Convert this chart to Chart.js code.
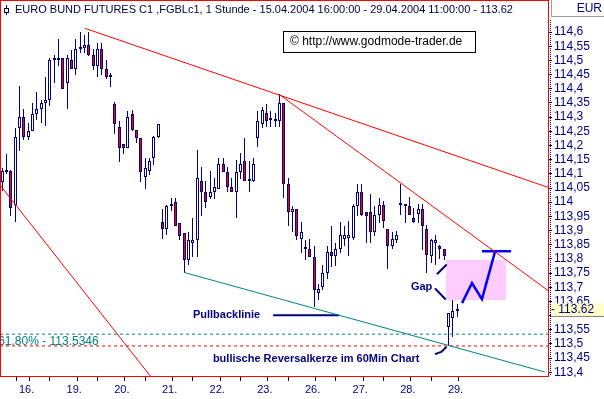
<!DOCTYPE html>
<html><head><meta charset="utf-8">
<script src="https://cdn.jsdelivr.net/npm/chart.js@4.4.0/dist/chart.umd.min.js"></script>
<style>html,body{margin:0;padding:0;background:#fff;}#wrap{width:604px;height:399px;}</style>
</head><body><div id="wrap"><canvas id="c" width="604" height="399"></canvas></div>
<script>
// ---------- DATA (hourly candles, 15.04.2004 16:00 - 29.04.2004 11:00) ----------
const opens = [114.07,114.105,114.11,113.99,114.26,114.30,114.23,114.25,114.31,114.33,114.35,114.36,114.50,114.51,114.51,114.42,114.50,114.47,114.54,114.545,114.555,114.52,114.48,114.54,114.47,114.44,
114.345,114.265,114.205,114.19,114.31,114.255,114.225,114.09,114.11,114.155,114.23,
113.93,113.905,113.985,114.0,113.925,113.89,113.795,113.855,113.865,114.075,114.035,
114.02,114.035,114.045,114.135,114.105,114.055,114.035,114.105,114.145,114.075,114.075,
114.225,114.275,114.315,114.29,114.295,114.285,114.35,114.065,113.965,113.975,113.87,
113.835,113.835,113.805,113.68,113.70,113.75,113.825,113.81,113.835,113.87,113.875,
113.875,113.985,114.035,113.965,113.965,113.895,113.955,113.99,113.905,113.845,113.865,
113.99,113.985,113.985,113.945,113.96,113.975,113.905,113.81,113.855,113.845,113.835,
113.56,113.59,113.615];
const highs = [114.12,114.17,114.115,114.26,114.41,114.33,114.28,114.35,114.39,114.36,114.44,114.51,114.52,114.575,114.51,114.52,114.535,114.575,114.60,114.59,114.60,114.54,114.56,114.56,114.50,114.455,
114.355,114.285,114.205,114.32,114.325,114.255,114.225,114.155,114.155,114.235,114.275,
113.975,113.99,114.015,114.015,113.925,113.89,113.895,113.945,114.185,114.125,114.075,
114.11,114.085,114.155,114.155,114.125,114.085,114.15,114.175,114.225,114.145,114.155,
114.32,114.335,114.345,114.32,114.315,114.38,114.35,114.085,113.985,113.975,113.93,
113.865,113.87,113.845,113.71,113.78,113.845,113.915,113.855,113.93,113.915,113.935,
113.995,114.065,114.065,113.965,114.03,113.985,114.015,114.005,113.905,113.895,113.90,
114.065,113.995,114.02,113.98,113.995,113.995,113.92,113.87,113.885,113.85,113.835,
113.61,113.655,113.64];
const lows = [114.04,114.10,113.95,113.93,114.18,114.22,114.22,114.25,114.29,114.28,114.27,114.34,114.42,114.48,114.40,114.33,114.47,114.45,114.525,114.525,114.515,114.465,114.44,114.45,114.435,114.405,
114.24,114.14,114.17,114.19,114.25,114.21,114.07,114.045,114.095,114.13,114.225,
113.87,113.885,113.97,113.915,113.865,113.75,113.78,113.805,113.805,113.95,113.98,
114.01,114.01,114.045,114.105,114.035,114.035,113.945,114.08,114.075,114.035,114.07,
114.195,114.26,114.265,114.265,114.265,114.265,114.015,113.915,113.895,113.865,113.82,
113.795,113.805,113.63,113.655,113.69,113.73,113.77,113.775,113.82,113.845,113.81,
113.865,113.95,113.95,113.855,113.855,113.88,113.925,113.91,113.765,113.835,113.855,
113.955,113.925,113.955,113.925,113.925,113.83,113.75,113.785,113.78,113.80,113.795,
113.495,113.525,113.595];
const closes = [114.11,114.11,113.98,114.23,114.30,114.23,114.25,114.31,114.33,114.35,114.36,114.50,114.51,114.50,114.40,114.51,114.47,114.54,114.545,114.555,114.52,114.48,114.54,114.47,114.44,114.45,
114.275,114.19,114.19,114.30,114.255,114.225,114.105,114.12,114.145,114.23,114.275,
113.905,113.985,113.995,113.915,113.88,113.795,113.865,113.865,114.085,114.035,114.0,
114.035,114.055,114.135,114.105,114.055,114.035,114.105,114.135,114.075,114.08,114.135,
114.285,114.325,114.285,114.295,114.285,114.35,114.065,113.965,113.975,113.88,113.895,
113.84,113.805,113.69,113.695,113.75,113.825,113.81,113.835,113.885,113.885,113.885,
113.985,114.035,113.955,113.95,113.895,113.955,113.99,113.935,113.845,113.87,113.885,
113.995,113.995,113.955,113.93,113.975,113.915,113.815,113.865,113.865,113.835,113.81,
113.61,113.615,113.62];

const dayLabels = ['16.','19.','20.','21.','22.','23.','26.','27.','28.','29.'];
const yTickValues = [113.4,113.45,113.5,113.55,113.6,113.65,113.7,113.75,113.8,113.85,113.9,113.95,114,114.05,114.1,114.15,114.2,114.25,114.3,114.35,114.4,114.45,114.5,114.55,114.6];
const lastPrice = 113.62;
const fibLevel = 113.5346;
const reversalLow = 113.493;

// trend lines (candle index, price)
const upperTrend   = [{x:19.1,y:114.613},{x:126,y:114.052}];
const steepTrend   = [{x:64.1,y:114.378},{x:126,y:113.688}];
const leftTrend    = [{x:-0.6,y:114.062},{x:34.2,y:113.386}];
const pullbackLine = [{x:42.0,y:113.752},{x:125.2,y:113.401}];
const projection   = [{x:106.1,y:113.644},{x:108.4,y:113.715},{x:110.7,y:113.658},{x:113.7,y:113.825}];
const projTarget   = [{x:110.7,y:113.827},{x:117.4,y:113.827}];
const pullbackMark = [{x:62.5,y:113.601},{x:77.7,y:113.601}];
const gapMarkTop   = [{x:100.3,y:113.746},{x:102.56,y:113.780}];
const gapMarkBot   = [{x:99.86,y:113.696},{x:102.33,y:113.657}];
const reversalMark = [{x:99.86,y:113.464},{x:101.3,y:113.472},{x:102.56,y:113.49}];
const gapZone = {x0:102.4, x1:116.2, top:113.796, bottom:113.655};

// ---------- LAYOUT ----------
const X_MIN = -0.53, X_MAX = 125.94;
const Y_MIN = 113.387, Y_MAX = 114.713;
const FIRST_DAY = 3, PER_DAY = 11;
const navy = '#000080';
const FONT = '"Liberation Sans", Arial, sans-serif';

const dayStart = dayLabels.map((d,i)=>FIRST_DAY + i*PER_DAY);
const labelPos = dayStart.map(s=>s+2.6);
const xTicks = [];
dayStart.forEach((s,i)=>{ xTicks.push(s+1); xTicks.push(labelPos[i]); if(i<dayStart.length-1) xTicks.push(s+4); });
xTicks.sort((a,b)=>a-b);
function isLabelTick(v){ return labelPos.some(p=>Math.abs(p-v)<1e-6); }
function dayLabelFor(v){ const k = labelPos.findIndex(p=>Math.abs(p-v)<1e-6); return k>=0 ? dayLabels[k] : ''; }

const idx = opens.map((_,i)=>i);
const bodies = idx.map(i=>({x:i, y:[opens[i], closes[i]]}));
const wicks = idx.map(i=>({x:i, y:[lows[i], highs[i]]}));
const bodyColors = idx.map(i=> closes[i] >= opens[i] ? '#ffffff' : '#ff0000');

function lineDs(data, color, width, dash){
  return {type:'line', data, borderColor:color, borderWidth:width, borderDash:dash||[], pointRadius:0, tension:0, fill:false, order:0};
}
const xEdges = [{x:X_MIN,y:0},{x:X_MAX,y:0}];

const snapBars = {
  id:'snapBars',
  afterDatasetsUpdate(chart){
    chart.getSortedVisibleDatasetMetas().forEach(meta=>{
      if(meta.type !== 'bar') return;
      meta.data.forEach(el=>{
        el.x = Math.floor(el.x) + 0.5;
        el.y = Math.round(el.y);
        el.base = Math.round(el.base);
      });
    });
  }
};

const overlay = {
  id:'overlay',
  beforeDatasetsDraw(chart){
    const {ctx, scales:{x,y}} = chart;
    ctx.save();
    ctx.fillStyle = '#ffccff';
    const l = Math.round(x.getPixelForValue(gapZone.x0)), r = Math.round(x.getPixelForValue(gapZone.x1));
    const t = Math.round(y.getPixelForValue(gapZone.top)), b = Math.round(y.getPixelForValue(gapZone.bottom));
    ctx.fillRect(l, t, r-l, b-t);
    ctx.restore();
  },
  afterDraw(chart){
    const {ctx, scales:{x,y}, chartArea:ca} = chart;
    ctx.save();
    // texts
    ctx.textBaseline = 'middle';
    ctx.textAlign = 'left';
    ctx.fillStyle = navy;
    ctx.font = 'bold 11px ' + FONT;
    ctx.fillText('Pullbacklinie', x.getPixelForValue(44.0), y.getPixelForValue(113.601));
    ctx.fillText('bullische Reversalkerze im 60Min Chart', x.getPixelForValue(48.6), y.getPixelForValue(113.447));
    ctx.fillText('Gap', x.getPixelForValue(94.3), y.getPixelForValue(113.701));
    ctx.fillStyle = '#008080';
    ctx.font = '12px ' + FONT;
    ctx.fillText('61.80% - ' + fibLevel.toFixed(4), x.getPixelForValue(-0.95), y.getPixelForValue(113.508));
    // frame
    ctx.strokeStyle = '#ff0000'; ctx.lineWidth = 1;
    ctx.strokeRect(ca.left+0.5, ca.top+0.5, ca.right-ca.left, ca.bottom-ca.top);
    // dotted y axis line
    ctx.strokeStyle = navy; ctx.setLineDash([1,1]);
    ctx.beginPath(); ctx.moveTo(ca.right+2.5, 20); ctx.lineTo(ca.right+2.5, ca.bottom); ctx.stroke();
    ctx.setLineDash([]);
    // EUR box
    ctx.strokeStyle = '#a0a0a0';
    ctx.strokeRect(ca.right+3.5, -0.5, 60, 17);
    ctx.fillStyle = navy; ctx.font = '12px ' + FONT; ctx.textAlign = 'right';
    ctx.fillText('EUR', 602, 9);
    // last price box
    const yp = y.getPixelForValue(lastPrice);
    ctx.fillStyle = '#ffffc8';
    ctx.fillRect(ca.right+3, yp-6.5, 60, 12.5);
    ctx.strokeStyle = '#808080';
    ctx.beginPath(); ctx.moveTo(ca.right+3, yp+6.5); ctx.lineTo(604, yp+6.5); ctx.stroke();
    ctx.fillStyle = navy; ctx.textAlign = 'left';
    ctx.fillText('- ' + lastPrice.toFixed(2), ca.right+3, yp);
    // title
    ctx.strokeStyle = '#000040'; ctx.fillStyle = '#ffffff';
    ctx.beginPath(); ctx.moveTo(6.5, 5); ctx.lineTo(6.5, 15); ctx.stroke();
    ctx.fillRect(4.5, 8.5, 4, 4); ctx.strokeRect(4.5, 8.5, 4, 4);
    ctx.fillStyle = '#000040'; ctx.font = '11px ' + FONT;
    ctx.fillText('EURO BUND FUTURES C1 ,FGBLc1, 1 Stunde - 15.04.2004 16:00:00 - 29.04.2004 11:00:00 - 113.62', 15, 10);
    // copyright box
    ctx.fillStyle = '#ffffff';
    ctx.fillRect(283.5, 31.5, 192, 21);
    ctx.strokeStyle = '#000000';
    ctx.strokeRect(283.5, 31.5, 192, 21);
    ctx.fillStyle = '#000000'; ctx.font = '12px ' + FONT;
    ctx.fillText('\u00a9 http://www.godmode-trader.de', 290, 42);
    ctx.restore();
  }
};

new Chart(document.getElementById('c'), {
  type:'bar',
  data:{
    datasets:[
      {label:'body', data:bodies, backgroundColor:bodyColors, borderColor:navy, borderWidth:1, borderSkipped:false, grouped:false, maxBarThickness:3, minBarLength:2, order:1, inflateAmount:0},
      {label:'wick', data:wicks, backgroundColor:navy, borderWidth:0, grouped:false, maxBarThickness:1, order:2, inflateAmount:0},
      lineDs(upperTrend,'#ff0000',1),
      lineDs(steepTrend,'#ff0000',1),
      lineDs(leftTrend,'#ff0000',1),
      lineDs(pullbackLine,'#008080',1),
      lineDs(xEdges.map(p=>({x:p.x,y:fibLevel})),'#008080',1,[3,3]),
      lineDs(xEdges.map(p=>({x:p.x,y:reversalLow})),'#ff0000',1,[3,3]),
      lineDs(projection,'#0000ff',2.5),
      lineDs(projTarget,'#0000ff',2.5),
      lineDs(pullbackMark,navy,2),
      lineDs(gapMarkTop,navy,2),
      lineDs(gapMarkBot,navy,2),
      lineDs(reversalMark,navy,2)
    ]
  },
  options:{
    responsive:false, animation:false, events:[],
    layout:{padding:0},
    plugins:{legend:{display:false}, tooltip:{enabled:false}, title:{display:false}},
    scales:{
      x:{
        type:'linear', min:X_MIN, max:X_MAX, offset:false,
        afterBuildTicks:s=>{ s.ticks = xTicks.map(v=>({value:v})); },
        afterFit:s=>{ s.height = 23; s.paddingLeft = 0; s.paddingRight = 0; },
        ticks:{autoSkip:false, maxRotation:0, minRotation:0, padding:2, color:navy, font:{family:FONT, size:11}, callback:v=>dayLabelFor(v)},
        grid:{display:true, drawOnChartArea:false, drawTicks:true, tickLength:5, tickWidth:1,
              tickColor:c=> (c.tick && isLabelTick(c.tick.value)) ? 'rgba(0,0,0,0)' : navy},
        border:{display:false}
      },
      y:{
        type:'linear', position:'right', min:Y_MIN, max:Y_MAX,
        afterBuildTicks:s=>{ s.ticks = yTickValues.map(v=>({value:v})); },
        afterFit:s=>{ s.width = 56; s.paddingTop = 0; s.paddingBottom = 0; },
        ticks:{autoSkip:false, padding:2, color:navy, font:{family:FONT, size:12},
               callback:v=> Math.abs(v-113.6)<1e-6 ? '' : String(Math.round(v*100)/100).replace('.',',')},
        grid:{drawOnChartArea:false, drawTicks:true, tickLength:4, tickColor:navy},
        border:{display:false}
      }
    }
  },
  plugins:[snapBars, overlay]
});
</script>
</body></html>
